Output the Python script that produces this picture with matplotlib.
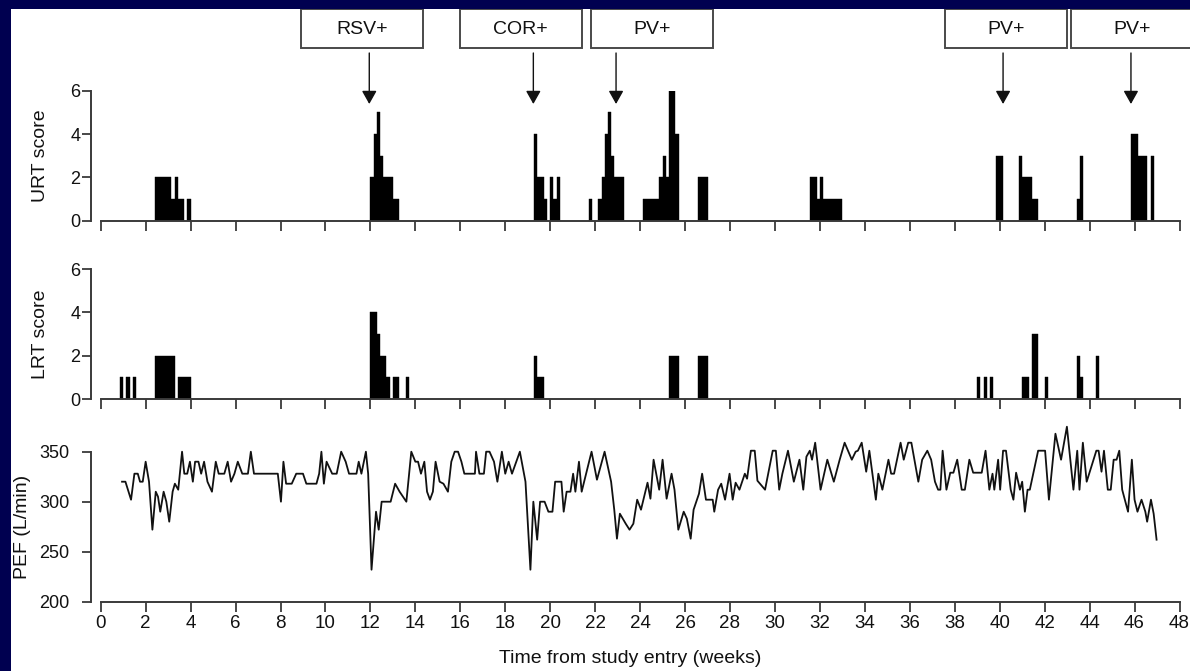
import matplotlib
matplotlib.use('Agg')
import matplotlib.pyplot as plt
from matplotlib.patches import Rectangle
from matplotlib.transforms import blended_transform_factory
import numpy as np

plt.rcParams['font.family'] = ['Liberation Sans', 'DejaVu Sans']

# ---------------- data ----------------
# URT score: segments of consecutive study days (start day, number of days, score)
urt_start = [17, 22, 23, 24, 27,
             84, 85, 86, 87, 88, 91,
             135, 136, 138, 140, 141, 142,
             152,
             155, 156, 157, 158, 159, 160,
             169, 174, 175, 176, 177, 179,
             186,
             221, 223, 224, 225,
             279,
             286, 287, 290,
             304, 305,
             321, 323, 327]
urt_ndays = [5, 1, 1, 2, 1,
             1, 1, 1, 1, 3, 2,
             1, 2, 1, 1, 1, 1,
             1,
             1, 1, 1, 1, 1, 3,
             5, 1, 1, 1, 2, 1,
             3,
             2, 1, 1, 6,
             2,
             1, 3, 2,
             1, 1,
             2, 3, 1]
urt_score = [2, 1, 2, 1, 1,
             2, 4, 5, 3, 2, 1,
             4, 2, 1, 2, 1, 2,
             1,
             1, 2, 4, 5, 3, 2,
             1, 2, 3, 2, 6, 4,
             2,
             2, 1, 2, 1,
             3,
             3, 2, 1,
             1, 3,
             4, 3, 3]

# LRT score segments
lrt_start = [6, 8, 10, 17, 24,
             84, 86, 87, 89, 91, 95,
             135, 136,
             177, 186,
             273, 275, 277, 287, 290, 294,
             304, 305, 310]
lrt_ndays = [1, 1, 1, 6, 4,
             2, 1, 2, 1, 2, 1,
             1, 2,
             3, 3,
             1, 1, 1, 2, 2, 1,
             1, 1, 1]
lrt_score = [1, 1, 1, 2, 1,
             4, 3, 2, 1, 1, 1,
             2, 1,
             2, 2,
             1, 1, 1, 1, 3, 1,
             2, 1, 2]

# PEF (L/min) against time (weeks)
pef_weeks = [0.95, 1.1, 1.35, 1.5, 1.65, 1.75, 1.87, 2.0, 2.15, 2.3, 2.45, 2.55, 2.65, 2.8, 2.92,
             3.05, 3.2, 3.3, 3.45, 3.62, 3.72, 3.85, 3.97, 4.1, 4.2, 4.35, 4.47, 4.6, 4.75, 4.95,
             5.12, 5.25, 5.5, 5.65, 5.8, 5.95, 6.1, 6.3, 6.55, 6.68, 6.82, 7.88, 8.02, 8.13, 8.25,
             8.5, 8.7, 9.0, 9.15, 9.6, 9.72, 9.82, 9.93, 10.05, 10.3, 10.5, 10.7, 10.9, 11.05, 11.38,
             11.48, 11.6, 11.8, 11.9, 12.05, 12.25, 12.37, 12.5, 12.9, 13.1, 13.3, 13.45, 13.6, 13.82,
             14.0, 14.12, 14.25, 14.4, 14.52, 14.65, 14.78, 14.9, 15.08, 15.25, 15.45, 15.6, 15.75,
             15.9, 16.05, 16.18, 16.65, 16.7, 16.85, 17.05, 17.15, 17.3, 17.5, 17.65, 17.85, 18.0,
             18.15, 18.3, 18.65, 18.9, 19.12, 19.25, 19.42, 19.55, 19.75, 19.92, 20.1, 20.22, 20.5,
             20.6, 20.73, 20.9, 21.02, 21.12, 21.28, 21.4, 21.6, 21.84,
             22.08, 22.42, 22.71, 22.85, 22.97, 23.1, 23.36, 23.53, 23.7, 23.87, 24.04, 24.33, 24.46,
             24.6, 24.85, 25.0, 25.18, 25.4, 25.53, 25.7, 25.94, 26.08, 26.25, 26.38, 26.62, 26.76,
             26.93, 27.23, 27.3, 27.47, 27.61, 27.78, 27.98, 28.12, 28.25, 28.42, 28.66, 28.76, 28.93,
             29.1, 29.22, 29.56, 29.9, 30.04, 30.19, 30.33, 30.58, 30.84, 31.09, 31.26, 31.4, 31.55,
             31.65, 31.79, 32.03, 32.33, 32.62, 32.88, 33.1, 33.42, 33.59, 33.69, 33.86, 34.06, 34.2,
             34.49, 34.6, 34.78, 35.05, 35.17, 35.3, 35.59, 35.73, 35.93, 36.07, 36.38, 36.55, 36.78,
             36.95, 37.12, 37.26, 37.36, 37.46, 37.63, 37.8, 37.94, 38.11, 38.31, 38.45, 38.65, 38.82,
             39.2, 39.37, 39.54, 39.68, 39.76, 39.93, 40.02, 40.15, 40.28, 40.49, 40.61, 40.73, 40.9,
             41.0, 41.12, 41.24, 41.34, 41.71, 42.02, 42.19, 42.48, 42.73, 42.99, 43.28, 43.45, 43.55,
             43.7, 43.87, 44.3, 44.4, 44.53, 44.64, 44.81, 44.94, 45.07, 45.2, 45.32, 45.45, 45.71,
             45.88, 46.0, 46.13, 46.31, 46.48, 46.56, 46.73, 46.85, 46.98]
pef_values = [320, 320, 302, 328, 328, 320, 320, 340, 320, 272, 310, 305, 290, 310, 300,
              280, 310, 318, 312, 350, 328, 328, 340, 320, 340, 340, 328, 340, 320, 310,
              340, 328, 328, 340, 320, 328, 340, 328, 328, 350, 328, 328, 300, 340, 318,
              318, 328, 328, 318, 318, 328, 350, 318, 340, 328, 328, 350, 340, 328, 328,
              340, 328, 350, 328, 232, 290, 272, 300, 300, 318, 310, 305, 300, 350,
              340, 340, 328, 340, 310, 302, 310, 340, 320, 318, 310, 340, 350,
              350, 340, 328, 328, 350, 328, 328, 350, 350, 340, 320, 350, 328,
              340, 328, 350, 320, 232, 300, 262, 300, 300, 290, 290, 320, 320,
              290, 310, 310, 328, 310, 340, 310, 328, 350,
              322, 350, 320, 292, 263, 288, 278, 272, 278, 302, 292, 319, 303,
              342, 312, 342, 303, 328, 312, 272, 290, 283, 263, 292, 308, 328,
              302, 302, 290, 312, 318, 302, 328, 302, 319, 312, 328, 323, 351,
              351, 321, 312, 351, 351, 312, 328, 351, 320, 342, 312, 345, 351,
              342, 359, 312, 342, 320, 342, 359, 342, 350, 351, 359, 330, 351,
              302, 328, 312, 342, 328, 328, 359, 342, 359, 359, 320, 342, 351,
              342, 320, 312, 312, 351, 312, 329, 329, 342, 312, 312, 342, 329,
              329, 351, 312, 328, 312, 342, 312, 351, 351, 312, 302, 329, 312,
              320, 290, 312, 312, 351, 351, 302, 368, 342, 375, 312, 351, 312,
              359, 320, 351, 351, 330, 351, 312, 312, 342, 342, 351, 312, 290,
              342, 302, 290, 302, 290, 280, 302, 288, 262]

# virus-positive events (label, week of arrow, week of box centre)
event_labels = ['RSV+', 'COR+', 'PV+', 'PV+', 'PV+']
event_weeks = [11.95, 19.25, 22.93, 40.15, 45.84]
box_weeks = [11.63, 18.69, 24.55, 40.3, 45.9]

week_ticks = list(range(0, 50, 2))

# ---------------- figure ----------------
W, H = 1190, 671
fig = plt.figure(figsize=(W / 100, H / 100), dpi=100)
fig.patch.set_facecolor('white')
navy = '#000050'
fig.add_artist(Rectangle((0, 1 - 9.3 / H), 1, 9.3 / H, transform=fig.transFigure,
                         facecolor=navy, edgecolor='none', zorder=100))
fig.add_artist(Rectangle((0, 0), 10.5 / W, 1, transform=fig.transFigure,
                         facecolor=navy, edgecolor='none', zorder=100))

X0, X1 = 100.7, 1179.5


def axpos(ytop, ybot):
    return [X0 / W, 1 - ybot / H, (X1 - X0) / W, (ybot - ytop) / H]


axc = '#3a3a3a'


def style(ax, ylo, yhi, yticks, xlabels, ypad):
    ax.set_xlim(0, 48)
    ax.set_ylim(ylo, yhi)
    ax.set_facecolor('none')
    for s in ('top', 'right'):
        ax.spines[s].set_visible(False)
    ax.spines['left'].set_position(('outward', 7.2))
    ax.spines['left'].set_bounds(ylo, yhi)
    ax.spines['bottom'].set_bounds(0, 48)
    for s in ('left', 'bottom'):
        ax.spines[s].set_color(axc)
        ax.spines[s].set_linewidth(1.4)
    ax.set_xticks(week_ticks)
    ax.set_yticks(yticks)
    ax.tick_params(axis='x', direction='out', length=7.2, width=1.3, color=axc,
                   labelbottom=xlabels, labelsize=13.5, pad=2.5, labelcolor='#111111')
    ax.tick_params(axis='y', direction='out', length=6.5, width=1.3, color=axc,
                   labelsize=13, pad=ypad, labelcolor='#111111')


ax_urt = fig.add_axes(axpos(90.7, 220.7))
ax_lrt = fig.add_axes(axpos(269, 399))
ax_pef = fig.add_axes(axpos(451.7, 601.7))

style(ax_urt, 0, 6, [0, 2, 4, 6], False, 1)
style(ax_lrt, 0, 6, [0, 2, 4, 6], False, 1)
style(ax_pef, 200, 350, [200, 250, 300, 350], True, 9)

ax_urt.bar(np.array(urt_start) / 7, urt_score, width=np.array(urt_ndays) / 7,
           align='edge', color='black', linewidth=0.3, edgecolor='black')
ax_lrt.bar(np.array(lrt_start) / 7, lrt_score, width=np.array(lrt_ndays) / 7,
           align='edge', color='black', linewidth=0.3, edgecolor='black')
ax_pef.plot(pef_weeks, pef_values, color='#111111', lw=1.3, clip_on=False)

ax_urt.set_ylabel('URT score', fontsize=14, color='#111111')
ax_urt.yaxis.set_label_coords(-0.048, 0.5)
ax_lrt.set_ylabel('LRT score', fontsize=14, color='#111111')
ax_lrt.yaxis.set_label_coords(-0.048, 0.5)
ax_pef.set_ylabel('PEF (L/min)', fontsize=14, color='#111111')
ax_pef.yaxis.set_label_coords(-0.0645, 0.5)
ax_pef.set_xlabel('Time from study entry (weeks)', fontsize=14, color='#111111')
ax_pef.xaxis.set_label_coords(0.491, -0.325)

# event boxes and arrows
tr = blended_transform_factory(ax_urt.transData, fig.transFigure)
box_w = 122 / ((X1 - X0) / 48)
box_bot = 1 - 48 / H
box_top = 1 - 9.0 / H
for lab, wk, bw in zip(event_labels, event_weeks, box_weeks):
    ax_urt.add_patch(Rectangle((bw - box_w / 2, box_bot), box_w, box_top - box_bot,
                               transform=tr, facecolor='white', edgecolor='#4a4a4a',
                               linewidth=1.4, clip_on=False, zorder=5))
    ax_urt.text(bw, 1 - 29 / H, lab, transform=tr, ha='center', va='center',
                fontsize=14, color='#111111', zorder=6, clip_on=False)
    ax_urt.annotate('', xy=(wk, 1 - 104 / H), xycoords=tr,
                    xytext=(wk, 1 - 53 / H), textcoords=tr,
                    arrowprops=dict(arrowstyle='-|>,head_length=0.8,head_width=0.45',
                                    mutation_scale=10, color='#111111', lw=1.0,
                                    shrinkA=0, shrinkB=0),
                    annotation_clip=False, zorder=6)

fig.savefig('out.png', dpi=100, facecolor=fig.get_facecolor())
